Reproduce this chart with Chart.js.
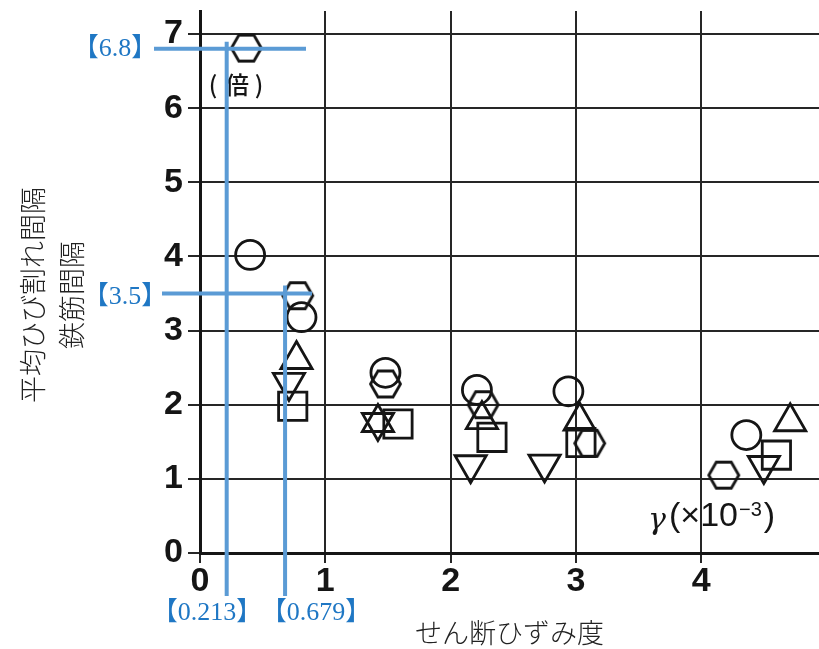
<!DOCTYPE html>
<html>
<head>
<meta charset="utf-8">
<script src="https://cdn.jsdelivr.net/npm/chart.js@4.4.1/dist/chart.umd.min.js"></script>
<style>
  html, body { margin: 0; padding: 0; background: #fff; }
  #wrap { width: 819px; height: 649px; }
</style>
</head>
<body>
<div id="wrap"><canvas id="chart" width="819" height="649"></canvas></div>
<script>
const xTicks = [0, 1, 2, 3, 4];
const yTicks = [0, 1, 2, 3, 4, 5, 6, 7];

// readings per marker: x = γ (×10^-3), y = 平均ひび割れ間隔 / 鉄筋間隔
const circleX = [0.40, 0.81, 1.48, 2.21, 2.94, 4.36];
const circleY = [4.02, 3.18, 2.43, 2.20, 2.18, 1.59];
const hexX = [0.37, 0.78, 1.48, 2.26, 3.11, 4.18];
const hexY = [6.81, 3.47, 2.28, 2.00, 1.48, 1.05];
const triX = [0.77, 1.42, 2.25, 3.03, 4.71];
const triY = [2.61, 1.76, 1.80, 1.78, 1.77];
const invTriX = [0.71, 1.42, 2.16, 2.75, 4.50];
const invTriY = [2.30, 1.76, 1.19, 1.20, 1.18];
const squareX = [0.74, 1.58, 2.33, 3.04, 4.60];
const squareY = [1.98, 1.74, 1.56, 1.49, 1.32];

// blue read-off guides
const guideX = [0.213, 0.679];
const guideY = [6.8, 3.5];

const ink = '#151515';
const blueLine = '#5b9bd5';
const blueText = '#1f77c4';
const tickFont = { family: "'Liberation Sans', Arial, sans-serif", size: 34, weight: 'bold' };

function hexagonImage(r, lw) {
    const size = Math.ceil(2 * r + lw + 4);
    const c = document.createElement('canvas');
    c.width = size;
    c.height = size;
    const g = c.getContext('2d');
    g.strokeStyle = ink;
    g.lineWidth = lw;
    g.beginPath();
    for (let i = 0; i < 6; i++) {
        const a = Math.PI / 3 * i;
        const px = size / 2 + r * Math.cos(a);
        const py = size / 2 + r * Math.sin(a);
        if (i === 0) g.moveTo(px, py); else g.lineTo(px, py);
    }
    g.closePath();
    g.stroke();
    return c;
}

const toPoints = (xs, ys) => xs.map((x, i) => ({ x, y: ys[i] }));

function markers(label, xs, ys, style, radius, rotation) {
    return {
        label,
        data: toPoints(xs, ys),
        pointStyle: style,
        pointRadius: radius,
        pointRotation: rotation || 0,
        pointBorderColor: ink,
        pointBackgroundColor: 'rgba(0,0,0,0)',
        pointBorderWidth: 2.8,
        showLine: false,
    };
}

const overlay = {
    id: 'overlay',
    afterDraw(chart) {
        const { ctx } = chart;
        const x = chart.scales.x;
        const y = chart.scales.y;
        ctx.save();

        // y title (two lines, rotated)
        ctx.fillStyle = '#222';
        ctx.font = "300 27px 'Noto Sans CJK JP'";
        ctx.textAlign = 'center';
        ctx.textBaseline = 'middle';
        [['平均ひび割れ間隔', 33], ['鉄筋間隔', 72]].forEach(([t, px]) => {
            ctx.save();
            ctx.translate(px, 295);
            ctx.rotate(-Math.PI / 2);
            ctx.fillText(t, 0, 0);
            ctx.restore();
        });

        // (倍)
        ctx.fillStyle = ink;
        ctx.font = "500 24px 'Noto Sans CJK JP'";
        ctx.fillText('(', 213, 85);
        ctx.fillText('倍', 237, 85);
        ctx.fillText(')', 259, 85);

        // γ(×10^-3)
        ctx.font = "italic 30px 'DejaVu Serif'";
        ctx.fillText('γ', 657, 521);
        ctx.textAlign = 'left';
        ctx.font = "34px 'Liberation Sans'";
        let cx = 669;
        ctx.fillText('(×10', cx, 517);
        cx += ctx.measureText('(×10').width + 1;
        ctx.font = "20px 'Liberation Sans'";
        ctx.fillText('−3', cx, 510);
        cx += ctx.measureText('−3').width + 2;
        ctx.font = "34px 'Liberation Sans'";
        ctx.fillText(')', cx, 517);

        // guides
        ctx.strokeStyle = blueLine;
        ctx.lineWidth = 4;
        const seg = (x1, y1, x2, y2) => {
            ctx.beginPath();
            ctx.moveTo(x1, y1);
            ctx.lineTo(x2, y2);
            ctx.stroke();
        };
        const gy1 = y.getPixelForValue(guideY[0]);
        const gy2 = y.getPixelForValue(guideY[1]);
        const gx1 = x.getPixelForValue(guideX[0]);
        const gx2 = x.getPixelForValue(guideX[1]);
        seg(154, gy1, 306, gy1);
        seg(gx1, gy1 - 7, gx1, 596);
        seg(162, gy2, 312, gy2);
        seg(gx2, gy2 - 8, gx2, 596);

        ctx.fillStyle = blueText;
        ctx.textAlign = 'center';
        ctx.font = "26px 'Liberation Serif', 'Noto Sans CJK JP'";
        ctx.fillText('【' + guideY[0] + '】', 115, gy1);
        ctx.fillText('【' + guideY[1] + '】', 125, gy2 + 4);
        ctx.fillText('【' + guideX[0] + '】', 207, 613);
        ctx.fillText('【' + guideX[1] + '】', 316, 613);
        ctx.restore();
    }
};

new Chart(document.getElementById('chart'), {
    type: 'scatter',
    data: {
        datasets: [
            markers('circle', circleX, circleY, 'circle', 14.5),
            markers('hexagon', hexX, hexY, hexagonImage(15, 2.8), 15),
            markers('triangle', triX, triY, 'triangle', 18),
            markers('inverted triangle', invTriX, invTriY, 'triangle', 18, 180),
            markers('square', squareX, squareY, 'rect', 20),
        ],
    },
    options: {
        responsive: false,
        animation: false,
        events: [],
        layout: { padding: { top: 11, left: 0, right: 0, bottom: 0 }, autoPadding: false },
        plugins: {
            legend: { display: false },
            tooltip: { enabled: false },
        },
        scales: {
            x: {
                type: 'linear',
                min: 0,
                max: 4.94,
                afterBuildTicks: axis => { axis.ticks = xTicks.map(v => ({ value: v })); },
                afterFit: axis => { axis.height = 96; axis.paddingLeft = 0; axis.paddingRight = 0; },
                grid: { color: '#262626', lineWidth: 2, tickLength: 10 },
                border: { color: ink, width: 3 },
                ticks: { color: ink, font: tickFont, padding: -2, maxRotation: 0 },
                title: {
                    display: true,
                    text: 'せん断ひずみ度',
                    color: '#222',
                    font: { family: "'Noto Sans CJK JP'", size: 27, weight: 300 },
                    padding: { top: 0, bottom: 0 },
                },
            },
            y: {
                type: 'linear',
                min: 0,
                max: 7.31,
                afterBuildTicks: axis => { axis.ticks = yTicks.map(v => ({ value: v })); },
                afterFit: axis => { axis.width = 200; axis.paddingTop = 0; axis.paddingBottom = 0; },
                grid: { color: '#262626', lineWidth: 2, tickLength: 12 },
                border: { color: ink, width: 3 },
                ticks: { color: ink, font: tickFont, padding: 5 },
            },
        },
    },
    plugins: [overlay],
});
</script>
</body>
</html>
